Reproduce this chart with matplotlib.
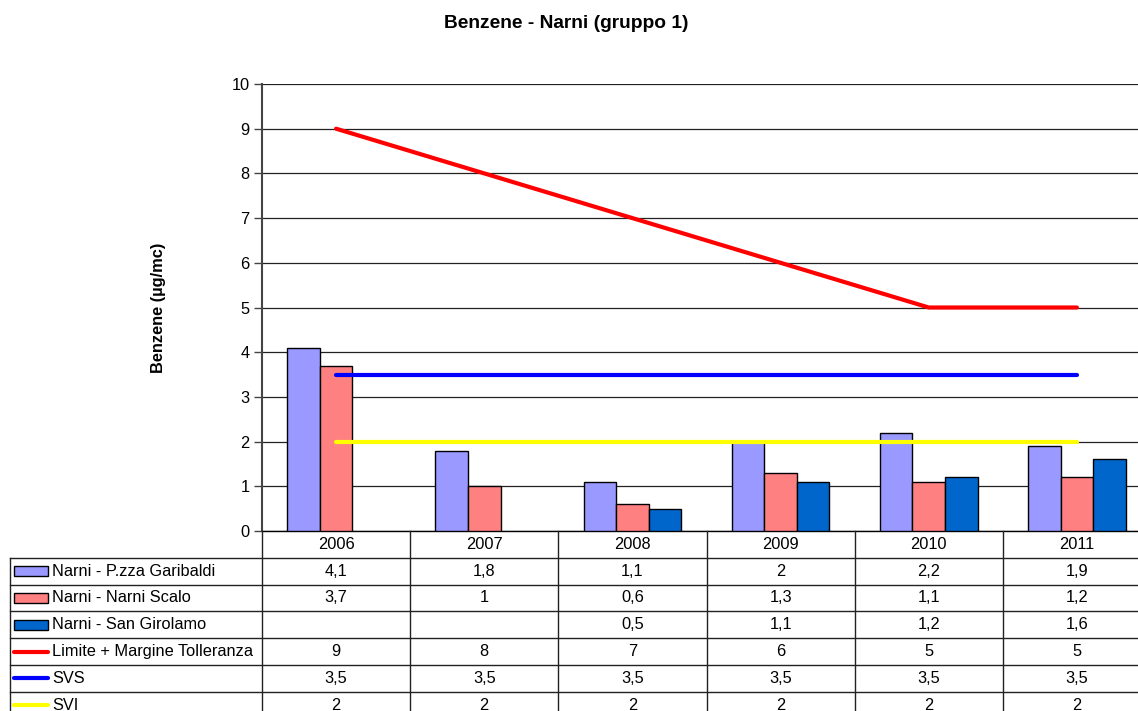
import matplotlib
matplotlib.use('Agg')
import matplotlib.pyplot as plt
from matplotlib.lines import Line2D
from matplotlib.patches import Rectangle
from matplotlib.transforms import blended_transform_factory
import numpy as np

plt.rcParams['font.family'] = ['Liberation Sans', 'DejaVu Sans']

years = ['2006', '2007', '2008', '2009', '2010', '2011']

# measured values (None = no data)
garibaldi = [4.1, 1.8, 1.1, 2, 2.2, 1.9]
scalo = [3.7, 1, 0.6, 1.3, 1.1, 1.2]
girolamo = [None, None, 0.5, 1.1, 1.2, 1.6]

# reference lines
limite = [9, 8, 7, 6, 5, 5]
svs = [3.5, 3.5, 3.5, 3.5, 3.5, 3.5]
svi = [2, 2, 2, 2, 2, 2]

bar_names = ['Narni - P.zza Garibaldi', 'Narni - Narni Scalo', 'Narni - San Girolamo']
bar_colors = ['#9999FF', '#FF8080', '#0066CC']
line_names = ['Limite + Margine Tolleranza', 'SVS', 'SVI']
line_colors = ['#FF0000', '#0000FF', '#FFFF00']

W, H = 1138, 711
fs = 11.8
fig = plt.figure(figsize=(W / 100, H / 100), dpi=100)


def fx(px):
    return px / W


def fy(py):
    return 1 - py / H


# plot area (right edge runs past the picture, as in the original)
ax = fig.add_axes([fx(262), fy(531), fx(1151 - 262), (531 - 84) / H])
x = np.arange(len(years))
bw = 0.22

for i, (vals, col) in enumerate(zip([garibaldi, scalo, girolamo], bar_colors)):
    xs = [xi + (i - 1) * bw for xi, v in zip(x, vals) if v is not None]
    hs = [v for v in vals if v is not None]
    ax.bar(xs, hs, width=bw, color=col, edgecolor='black', linewidth=1, zorder=3)

for vals, col in zip([limite, svs, svi], line_colors):
    ax.plot(x, vals, color=col, lw=3, solid_capstyle='round', zorder=4)

ax.set_xlim(-0.5, 5.5)
ax.set_ylim(0, 10)
ax.set_yticks(range(0, 11))
ax.set_xticks([])
ax.yaxis.grid(True, color='#222222', lw=0.9)
ax.set_axisbelow(True)
ax.tick_params(axis='y', direction='out', length=6, width=1, color='#444444',
               labelsize=fs, pad=3)
for s in ['top', 'right']:
    ax.spines[s].set_visible(False)
ax.spines['left'].set_color('#444444')
ax.spines['left'].set_linewidth(1.5)
ax.spines['bottom'].set_color('black')
ax.spines['bottom'].set_linewidth(1)

ax.set_ylabel('Benzene (µg/mc)', fontsize=fs, fontweight='bold')
ax.yaxis.set_label_coords((166 - 262) / 889, 0.5)

fig.text(fx(566), fy(23), 'Benzene - Narni (gruppo 1)', ha='center', va='center',
         fontsize=13.8, fontweight='bold')

# data table under the chart
tr = blended_transform_factory(ax.transData, fig.transFigure)
row_top = 531
row_h = 26.8
n_rows = 7
grid_col = '#222222'

bottom_px = row_top + n_rows * row_h
# vertical lines at category borders
for b in np.arange(len(years) + 1) - 0.5:
    fig.add_artist(Line2D([b, b], [fy(row_top), fy(bottom_px)], transform=tr,
                          color=grid_col, lw=1))
# left border of the label column
fig.add_artist(Line2D([fx(10), fx(10)], [fy(row_top + row_h), fy(bottom_px)],
                      transform=fig.transFigure, color=grid_col, lw=1))
# horizontal row lines
for r in range(1, n_rows + 1):
    yy = fy(row_top + r * row_h)
    fig.add_artist(Line2D([fx(10), 1.02], [yy, yy], transform=fig.transFigure,
                          color=grid_col, lw=1))

# header row with years
for xi, yr in zip(x, years):
    fig.text(xi, fy(row_top + row_h / 2), yr, transform=tr, ha='center',
             va='center', fontsize=fs)

rows = [garibaldi, scalo, girolamo, limite, svs, svi]
names = bar_names + line_names
for r, (name, vals) in enumerate(zip(names, rows)):
    yc = fy(row_top + (r + 1.5) * row_h)
    if r < 3:
        fig.add_artist(Rectangle((fx(14), yc - 5 / H), fx(34), 10 / H,
                                 transform=fig.transFigure, facecolor=bar_colors[r],
                                 edgecolor='black', lw=1))
    else:
        fig.add_artist(Line2D([fx(14), fx(48)], [yc, yc], transform=fig.transFigure,
                              color=line_colors[r - 3], lw=3, solid_capstyle='round'))
    fig.text(fx(52), yc, name, ha='left', va='center', fontsize=fs)
    for xi, v in zip(x, vals):
        if v is None:
            continue
        txt = ('%g' % v).replace('.', ',')
        fig.text(xi, yc, txt, transform=tr, ha='center', va='center', fontsize=fs)

fig.savefig('out.png', dpi=100)
